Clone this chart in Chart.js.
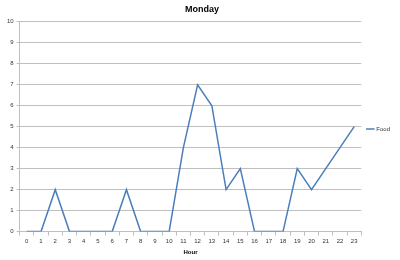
<!DOCTYPE html>
<html>
<head>
<meta charset="utf-8">
<script src="https://cdn.jsdelivr.net/npm/chart.js@4/dist/chart.umd.min.js"></script>
<style>
    html, body { margin: 0; padding: 0; background: #fff; }
    #wrap { width: 400px; height: 260px; }
</style>
</head>
<body>
<div id="wrap"><canvas id="chart" width="400" height="260"></canvas></div>
<script>
const hours = ['0','1','2','3','4','5','6','7','8','9','10','11','12','13','14','15','16','17','18','19','20','21','22','23']
const food = [0, 0, 2, 0, 0, 0, 0, 2, 0, 0, 0, 4, 7, 6, 2, 3, 0, 0, 0, 3, 2, 3, 4, 5]

const lineColor = '#4a7ebb'
const gridColor = '#bfbfbf'

const data = {
    labels: hours,
    datasets: [{
        label: 'Food',
        data: food,
        borderColor: lineColor,
        backgroundColor: lineColor,
        borderWidth: 1.5,
        pointRadius: 0,
        tension: 0
    }]
}

const config = {
    type: 'line',
    data: data,
    options: {
        responsive: false,
        animation: false,
        layout: {
            padding: { left: 4, right: 0, top: 2, bottom: 4 }
        },
        plugins: {
            title: {
                display: true,
                text: 'Monday',
                color: '#000',
                font: { family: 'Liberation Sans', size: 9, weight: 'bold' },
                padding: { top: 2, bottom: 7 }
            },
            legend: {
                position: 'right',
                labels: {
                    usePointStyle: true,
                    pointStyle: 'line',
                    boxWidth: 11,
                    padding: 6,
                    color: '#333',
                    font: { family: 'Liberation Sans', size: 6 }
                }
            },
            tooltip: { enabled: false }
        },
        scales: {
            x: {
                offset: true,
                grid: {
                    display: true,
                    drawOnChartArea: false,
                    offset: true,
                    tickLength: 4,
                    color: gridColor
                },
                border: { color: gridColor },
                ticks: {
                    color: '#333',
                    maxRotation: 0,
                    autoSkip: false,
                    padding: 2,
                    font: { family: 'Liberation Sans', size: 6 }
                },
                title: {
                    display: true,
                    text: 'Hour',
                    color: '#000',
                    padding: { top: 2, bottom: 0 },
                    font: { family: 'Liberation Sans', size: 6, weight: 'bold' }
                }
            },
            y: {
                min: 0,
                max: 10,
                grid: {
                    color: gridColor,
                    tickLength: 3
                },
                border: { color: gridColor },
                ticks: {
                    stepSize: 1,
                    color: '#333',
                    padding: 3,
                    font: { family: 'Liberation Sans', size: 6 }
                }
            }
        }
    }
}

let ctx = document.getElementById('chart').getContext('2d')

new Chart(ctx, config)
</script>
</body>
</html>
